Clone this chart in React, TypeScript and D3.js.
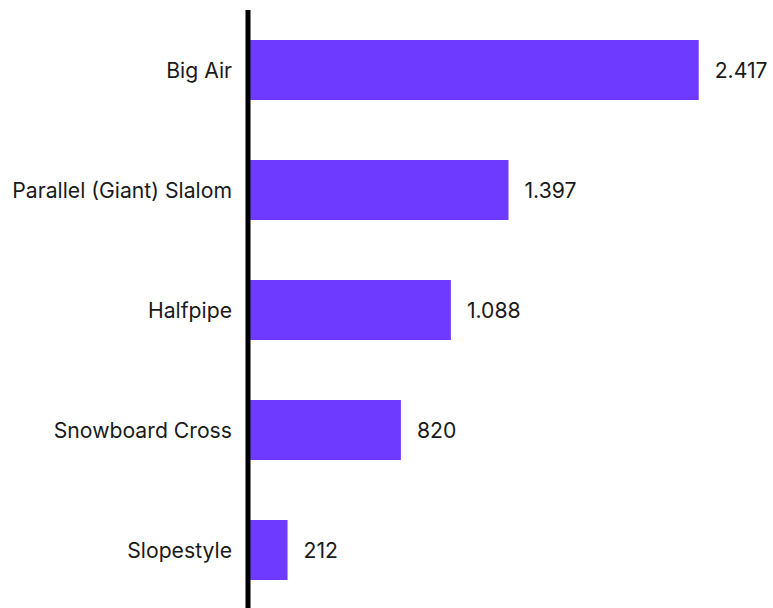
import React from "react";
import * as d3 from "d3";

const categories = ["Big Air", "Parallel (Giant) Slalom", "Halfpipe", "Snowboard Cross", "Slopestyle"];
const values = [2417, 1397, 1088, 820, 212];
const valueLabels = ["2.417", "1.397", "1.088", "820", "212"];

const W = 773;
const H = 608;
const x0 = 248;

export default function App() {
  const x = d3.scaleLinear().domain([0, 2417]).range([x0, 698.7]);
  const y = d3
    .scaleBand<string>()
    .domain(categories)
    .range([10, 610])
    .paddingInner(0.5)
    .paddingOuter(0.25);
  const font = "Inter, 'Noto Sans', sans-serif";
  return (
    <svg
      width={W}
      height={H}
      style={{ position: "absolute", left: 0, top: 0, background: "#fff" }}
    >
      {categories.map((c, i) => {
        const yy = y(c)!;
        const cy = yy + y.bandwidth() / 2;
        return (
          <g key={c}>
            <rect x={x(0)} y={yy} width={x(values[i]) - x(0)} height={y.bandwidth()} fill="#6e3aff" />
            <text
              x={x0 - 16}
              y={cy}
              textAnchor="end"
              dominantBaseline="central"
              fontFamily={font}
              fontSize={21.2}
              fill="#1a1a1a"
            >
              {c}
            </text>
            <text
              x={x(values[i]) + 16}
              y={cy}
              dominantBaseline="central"
              fontFamily={font}
              fontSize={21.2}
              fill="#1a1a1a"
            >
              {valueLabels[i]}
            </text>
          </g>
        );
      })}
      <line x1={x0} x2={x0} y1={10} y2={H} stroke="#000" strokeWidth={5} />
    </svg>
  );
}
